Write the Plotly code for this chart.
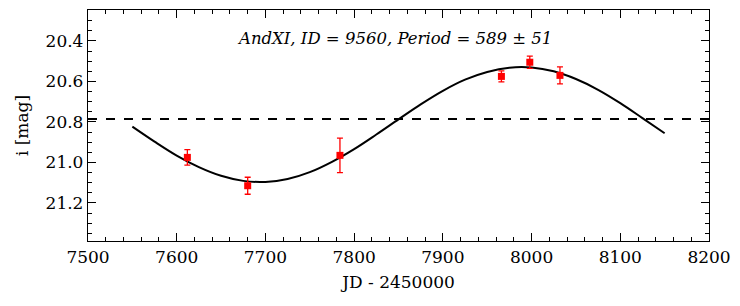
import plotly.graph_objects as go

# Observed data
jd = [7612, 7680, 7784, 7966, 7998, 8032]
mag = [20.975, 21.115, 20.965, 20.575, 20.505, 20.570]
mag_err = [0.038, 0.042, 0.085, 0.027, 0.030, 0.042]

# Fitted curve
fit_jd = [7550, 7575, 7600, 7625, 7650, 7675, 7700, 7725, 7750, 7775, 7800, 7825,
          7850, 7875, 7900, 7925, 7950, 7975, 8000, 8025, 8050, 8075, 8100, 8125, 8150]
fit_mag = [20.823, 20.897, 20.966, 21.023, 21.066, 21.091, 21.096, 21.082, 21.048, 20.997,
           20.934, 20.862, 20.787, 20.713, 20.646, 20.591, 20.553, 20.532, 20.531, 20.550,
           20.588, 20.641, 20.707, 20.781, 20.856]

mean_mag = 20.785
title_text = "AndXI, ID = 9560, Period = 589 ± 51"

font = "DejaVu Serif, Liberation Serif, serif"

fig = go.Figure()
fig.add_trace(go.Scatter(x=fit_jd, y=fit_mag, mode="lines", line=dict(color="black", width=2, shape="spline"),
                         showlegend=False, hoverinfo="skip"))
fig.add_trace(go.Scatter(x=jd, y=mag, mode="markers",
                         marker=dict(symbol="square", color="red", size=7),
                         error_y=dict(type="data", array=mag_err, color="red", thickness=1.3, width=3),
                         showlegend=False))
fig.add_shape(type="line", xref="paper", x0=0, x1=1, yref="y", y0=mean_mag, y1=mean_mag,
              line=dict(color="black", width=2, dash="dash"))
fig.add_annotation(x=7846, y=20.39, text="<i>" + title_text + "</i>", showarrow=False,
                   font=dict(family=font, size=16.5, color="black"))

axis_common = dict(showline=True, linecolor="black", linewidth=1.3, mirror="ticks",
                   ticks="inside", ticklen=8, tickwidth=1.2, tickcolor="black",
                   showgrid=False, zeroline=False,
                   tickfont=dict(family=font, size=17, color="black"))
fig.update_xaxes(range=[7500, 8200], dtick=100, tick0=7500,
                 minor=dict(dtick=20, ticks="inside", ticklen=4, tickcolor="black", showgrid=False),
                 title=dict(text="JD - 2450000", font=dict(family=font, size=17, color="black"), standoff=10),
                 **axis_common)
fig.update_yaxes(range=[21.388, 20.247], dtick=0.2, tick0=20.0, tickformat=".1f",
                 minor=dict(dtick=0.05, ticks="inside", ticklen=4, tickcolor="black", showgrid=False),
                 title=dict(text="i [mag]", font=dict(family=font, size=17, color="black"), standoff=12),
                 **axis_common)
fig.update_layout(width=740, height=306, margin=dict(l=88, r=31, t=10, b=65),
                  plot_bgcolor="white", paper_bgcolor="white", font=dict(family=font))
fig.write_html("out.html", config={"displayModeBar": False},
               post_script="document.body.style.margin='0';")
